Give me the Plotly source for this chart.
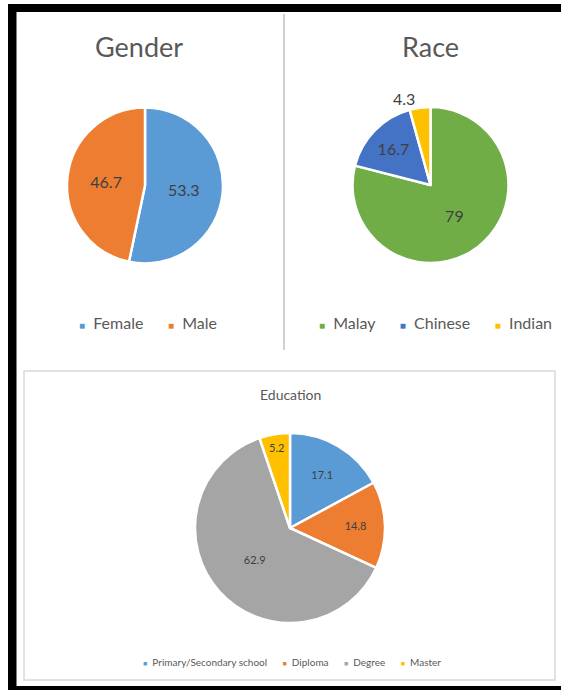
import plotly.graph_objects as go

W, H = 561, 693

# ---------------- data ----------------
gender_labels = ["Female", "Male"]
gender_values = [53.3, 46.7]
gender_colors = ["#5B9BD5", "#ED7D31"]

race_labels = ["Malay", "Chinese", "Indian"]
race_values = [79, 16.7, 4.3]
race_colors = ["#70AD47", "#4472C4", "#FFC000"]

edu_labels = ["Primary/Secondary school", "Diploma", "Degree", "Master"]
edu_values = [17.1, 14.8, 62.9, 5.2]
edu_colors = ["#5B9BD5", "#ED7D31", "#A5A5A5", "#FFC000"]

FONT = "Lato"
TXT = "#404040"
TITLE = "#595959"


def px(x):
    return x / W


def py(y):
    return 1 - y / H


def dom(cx, cy, r):
    return dict(x=[px(cx - r), px(cx + r)], y=[py(cy + r), py(cy - r)])


fig = go.Figure()

fig.add_trace(go.Pie(
    labels=gender_labels, values=gender_values, sort=False, direction="clockwise",
    rotation=0, marker=dict(colors=gender_colors, line=dict(color="white", width=2.5)),
    textinfo="value", textposition="inside", insidetextorientation="horizontal",
    textfont=dict(family=FONT, size=16, color=TXT), showlegend=False,
    domain=dom(145, 185.5, 78),
))

fig.add_trace(go.Pie(
    labels=race_labels, values=race_values, sort=False, direction="clockwise",
    rotation=0, marker=dict(colors=race_colors, line=dict(color="white", width=2.5)),
    textinfo="value", textposition=["inside", "inside", "outside"],
    insidetextorientation="horizontal",
    textfont=dict(family=FONT, size=16, color=TXT),
    outsidetextfont=dict(family=FONT, size=16, color=TXT), showlegend=False,
    domain=dom(430.5, 185, 78),
))

fig.add_trace(go.Pie(
    labels=edu_labels, values=edu_values, sort=False, direction="clockwise",
    rotation=0, marker=dict(colors=edu_colors, line=dict(color="white", width=2.5)),
    textinfo="value", textposition="inside", insidetextorientation="horizontal",
    textfont=dict(family=FONT, size=11, color=TXT), showlegend=False,
    domain=dom(290, 528, 95),
))


def legend_text(labels, colors, sq, gap):
    parts = [f'<span style="color:{c};font-size:{sq}px">■</span>  {l}'
             for l, c in zip(labels, colors)]
    return gap.join(parts)


annotations = [
    dict(text="Gender", x=px(139), y=py(47), font=dict(family=FONT, size=27, color=TITLE)),
    dict(text="Race", x=px(430), y=py(47), font=dict(family=FONT, size=27, color=TITLE)),
    dict(text="Education", x=px(290), y=py(394), font=dict(family=FONT, size=14, color=TITLE)),
    dict(text=legend_text(gender_labels, gender_colors, 10, "      "),
         x=px(148), y=py(322), font=dict(family=FONT, size=16, color=TITLE)),
    dict(text=legend_text(race_labels, race_colors, 10, "      "),
         x=px(435), y=py(322), font=dict(family=FONT, size=16, color=TITLE)),
    dict(text=legend_text(edu_labels, edu_colors, 7, "      "),
         x=px(292), y=py(662), font=dict(family=FONT, size=10, color=TITLE)),
]
for a in annotations:
    a.update(xref="paper", yref="paper", xanchor="center", yanchor="middle", showarrow=False)

shapes = [
    # black frame
    dict(type="rect", x0=px(8), x1=px(561), y0=py(4), y1=py(12), fillcolor="black", line_width=0),
    dict(type="rect", x0=px(8), x1=px(16.5), y0=py(4), y1=py(690), fillcolor="black", line_width=0),
    dict(type="rect", x0=px(8), x1=px(561), y0=py(686), y1=py(690), fillcolor="black", line_width=0),
    # divider
    dict(type="line", x0=px(284), x1=px(284), y0=py(14), y1=py(350), line=dict(color="#D0D0D0", width=2)),
    # education box
    dict(type="rect", x0=px(24), x1=px(555), y0=py(371), y1=py(680),
         line=dict(color="#D9D9D9", width=1.5), fillcolor="rgba(0,0,0,0)"),
]

fig.update_layout(
    width=W, height=H, margin=dict(l=0, r=0, t=0, b=0),
    paper_bgcolor="white", plot_bgcolor="white",
    annotations=annotations, shapes=shapes, showlegend=False,
)

fig.write_html("out.html")
